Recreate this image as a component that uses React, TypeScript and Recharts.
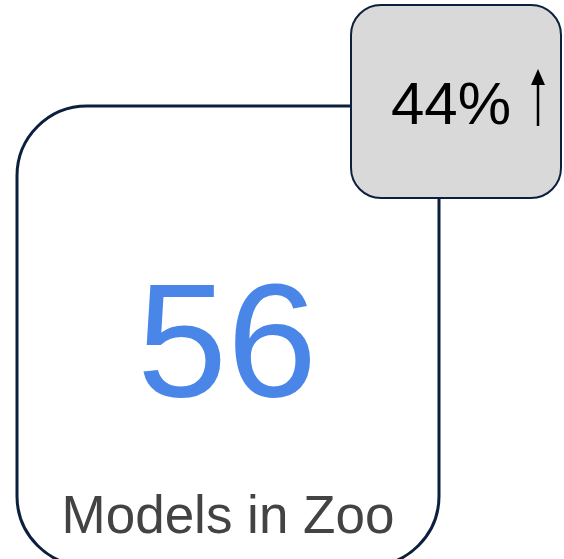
import React from "react";
import { Surface, Layer, Rectangle, Text } from "recharts";

const kpiValues = [56];
const kpiLabels = ["Models in Zoo"];
const changePercents = [44];
const changeDirections = ["up"];

const W = 564;
const H = 559;
const NAVY = "#0c1f3f";

export default function App() {
  const value = kpiValues[0];
  const label = kpiLabels[0];
  const pct = changePercents[0];
  const up = changeDirections[0] === "up";
  return (
    <div style={{ position: "absolute", left: 0, top: 0, width: W, height: H, background: "#fff" }}>
      <Surface width={W} height={H} viewBox={{ x: 0, y: 0, width: W, height: H }}>
        <Layer>
          <Rectangle x={17} y={106} width={422} height={460} radius={70} fill="#ffffff" stroke={NAVY} strokeWidth={3} />
          <Text x={227} y={338} textAnchor="middle" verticalAnchor="middle" fontFamily="Liberation Sans, Arial, sans-serif" fontSize={162} fill="#4a86e8">
            {String(value)}
          </Text>
          <Text x={228} y={514} textAnchor="middle" verticalAnchor="middle" fontFamily="Liberation Sans, Arial, sans-serif" fontSize={53} fill="#434343">
            {label}
          </Text>
        </Layer>
        <Layer>
          <Rectangle x={351} y={5} width={210} height={193} radius={30} fill="#d9d9d9" stroke={NAVY} strokeWidth={2} />
          <Text x={451} y={103} textAnchor="middle" verticalAnchor="middle" fontFamily="Liberation Sans, Arial, sans-serif" fontSize={60} fill="#000000">
            {`${pct}%`}
          </Text>
          <line x1={538} y1={126} x2={538} y2={82} stroke="#000" strokeWidth={2.5} />
          <path d={up ? "M538,69 L531,85 L545,85 Z" : "M538,140 L531,124 L545,124 Z"} fill="#000" />
        </Layer>
      </Surface>
    </div>
  );
}
